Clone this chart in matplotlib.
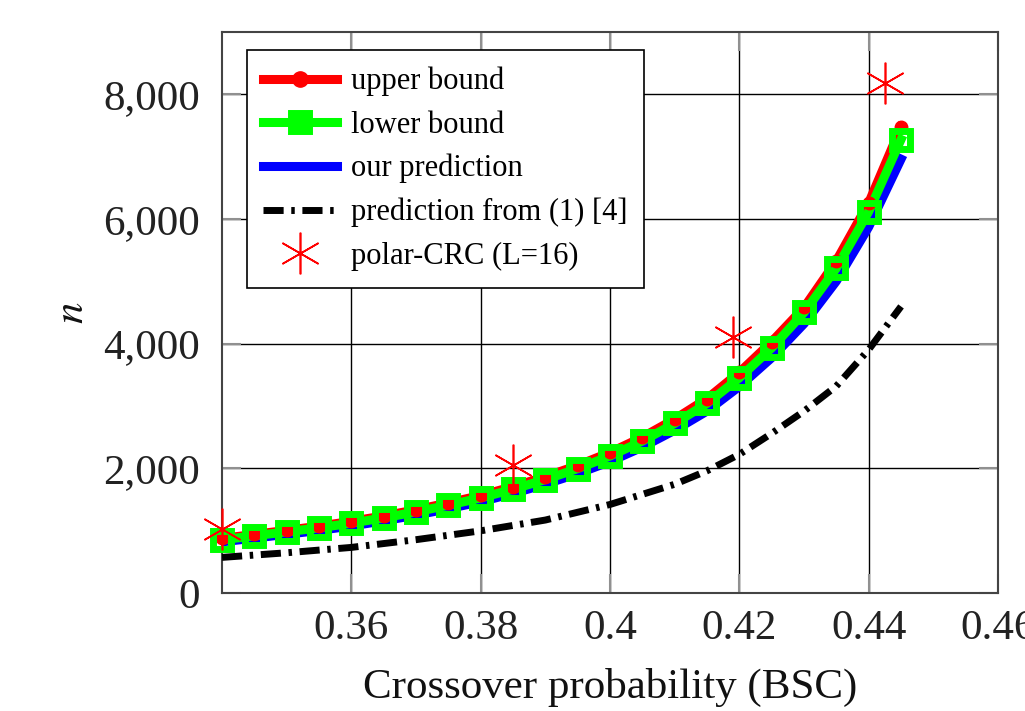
import matplotlib
matplotlib.use('Agg')
import matplotlib.pyplot as plt
from matplotlib.lines import Line2D
from matplotlib.ticker import FuncFormatter


# Données

p = [0.34, 0.345, 0.35, 0.355, 0.36, 0.365, 0.37, 0.375, 0.38, 0.385, 0.39,
     0.395, 0.40, 0.405, 0.41, 0.415, 0.42, 0.425, 0.43, 0.435, 0.44, 0.445]
upper = [875, 940, 1005, 1072, 1150, 1237, 1335, 1445, 1565, 1707, 1866,
         2047, 2255, 2500, 2790, 3118, 3540, 4032, 4580, 5330, 6260, 7480]
lower = [853, 917, 981, 1045, 1120, 1205, 1301, 1408, 1525, 1664, 1819,
         1995, 2197, 2437, 2720, 3040, 3451, 3931, 4500, 5211, 6117, 7275]
pred = [820, 880, 942, 1003, 1075, 1157, 1249, 1352, 1464, 1597, 1746,
        1915, 2109, 2340, 2611, 2918, 3313, 3774, 4320, 5003, 5872, 6960]

p_old = [0.34, 0.35, 0.36, 0.37, 0.38, 0.39, 0.40, 0.41, 0.415, 0.42,
         0.425, 0.43, 0.435, 0.44, 0.445]
pred_old = [571, 645, 731, 855, 997, 1170, 1420, 1744, 1960, 2224,
            2560, 2917, 3320, 3904, 4597]

p_crc = [0.34, 0.385, 0.419, 0.4425]
n_crc = [1020, 2050, 4100, 8187]

x_ticks = [0.36, 0.38, 0.40, 0.42, 0.44, 0.46]
x_labels = ['0.36', '0.38', '0.4', '0.42', '0.44', '0.46']
y_ticks = [0, 2000, 4000, 6000, 8000]

RED = 'red'
GREEN = '#00ff00'
BLUE = 'blue'

plt.rcParams['font.family'] = ['Liberation Serif', 'DejaVu Serif']
plt.rcParams['mathtext.fontset'] = 'stix'

fig = plt.figure(figsize=(10.25, 7.11), dpi=100)
ax = fig.add_axes([0.2166, 0.166, 0.7571, 0.789])

# lignes d'abord, marqueurs ensuite (comme pgfplots)
ax.plot(p, upper, color=RED, lw=6.5, zorder=3)
ax.plot(p, pred, color=BLUE, lw=6.5, zorder=3.5)
ax.plot(p, lower, color=GREEN, lw=6.5, zorder=4)
ax.plot(p, upper, ls='none', marker='o', ms=9, color=RED, zorder=5,
        clip_on=False)
ax.plot(p, lower, ls='none', marker='s', ms=13, mew=5, mec=GREEN,
        mfc='none', zorder=6, clip_on=False)
l_old, = ax.plot(p_old, pred_old, color='black', lw=5, zorder=6.5)
l_old.set_dashes([2.9, 1.1, 0.5, 1.1])
ax.plot(p_crc, n_crc, ls='none', marker=(6, 2, 0), ms=30, mew=1.2,
        color=RED, zorder=7, clip_on=False)

ax.set_xlim(0.34, 0.46)
ax.set_ylim(0, 9000)
ax.set_xticks(x_ticks)
ax.set_xticklabels(x_labels)
ax.set_yticks(y_ticks)
ax.yaxis.set_major_formatter(FuncFormatter(lambda v, pos: f'{int(v):,}'))

ax.grid(True, color='black', lw=1)
ax.tick_params(direction='in', length=14, width=1.5, color='#909090',
               labelsize=31, labelcolor='#222222', top=True, right=True)
ax.tick_params(axis='x', pad=12)
ax.tick_params(axis='y', pad=16)
for s in ax.spines.values():
    s.set_color('#444444')
    s.set_linewidth(1.5)

ax.set_xlabel('Crossover probability (BSC)', fontsize=31, color='#111111',
              labelpad=14)
ax.set_ylabel('$n$', fontsize=31, color='#111111', labelpad=8)

# légende
h_upper = Line2D([], [], color=RED, lw=6.5, marker='o', ms=11)
h_lower = Line2D([], [], color=GREEN, lw=6.5, marker='s', ms=13, mew=5,
                 mec=GREEN, mfc=GREEN)
h_pred = Line2D([], [], color=BLUE, lw=6.5)
h_old = Line2D([], [], color='black', lw=5, dashes=[2.9, 1.1, 0.5, 1.1])
h_crc = Line2D([], [], ls='none', marker=(6, 2, 0), ms=30, mew=1.2, color=RED)
leg = ax.legend([h_upper, h_lower, h_pred, h_old, h_crc],
                ['upper bound', 'lower bound', 'our prediction',
                 'prediction from (1) [4]', 'polar-CRC (L=16)'],
                loc='upper left', bbox_to_anchor=(0.0318, 0.968),
                borderaxespad=0, fontsize=22, numpoints=1, handlelength=2.4,
                handletextpad=0.45, labelspacing=0.47, borderpad=0.55,
                fancybox=False, framealpha=1, edgecolor='black')
leg.get_frame().set_linewidth(1.2)
leg.set_zorder(10)

plt.savefig('out.png', dpi=100)
